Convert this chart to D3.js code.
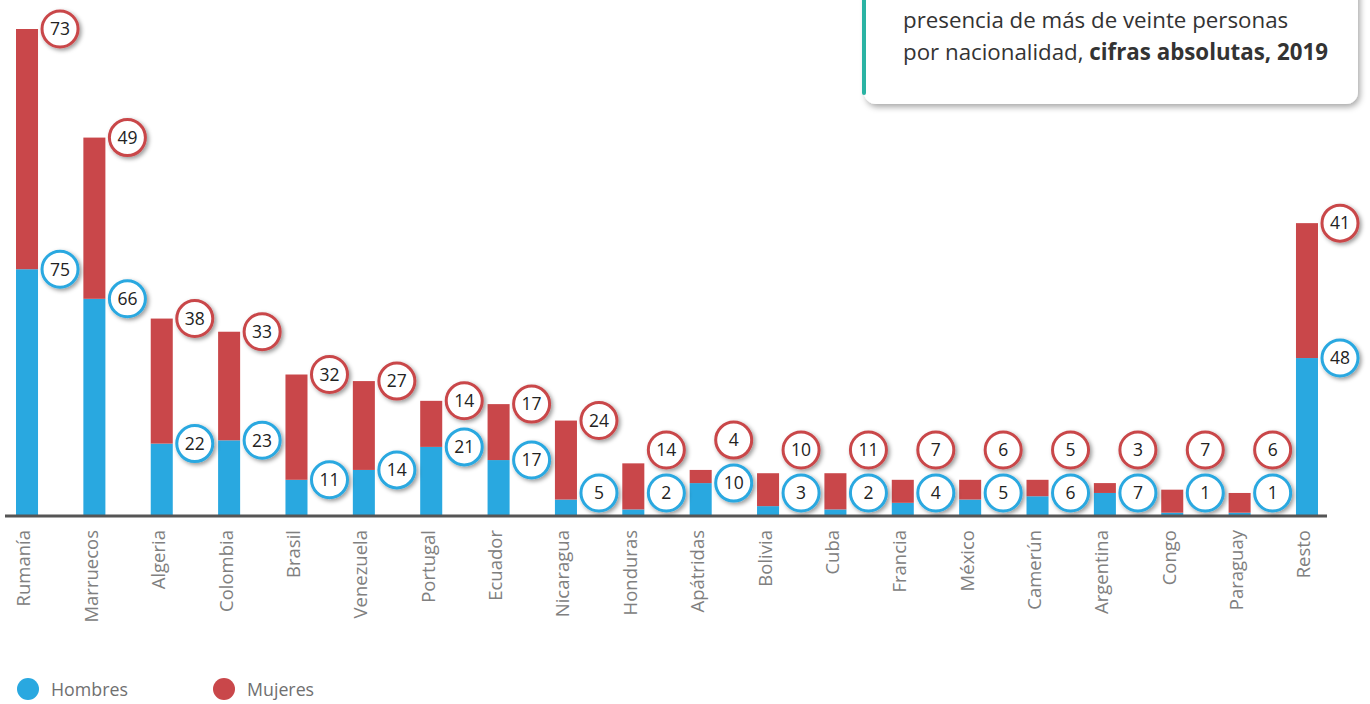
<!DOCTYPE html>
<html>
<head>
<meta charset="utf-8">
<script src="https://cdn.jsdelivr.net/npm/d3@7"></script>
<style>
  body { margin: 0; background: #fff; }
  svg { display: block; font-family: "Open Sans", sans-serif; }
</style>
</head>
<body>
<div id="chart"></div>
<script>
const countries = ["Rumanía", "Marruecos", "Algeria", "Colombia", "Brasil", "Venezuela", "Portugal", "Ecuador", "Nicaragua", "Honduras", "Apátridas", "Bolivia", "Cuba", "Francia", "México", "Camerún", "Argentina", "Congo", "Paraguay", "Resto"];
const hombres = [75, 66, 22, 23, 11, 14, 21, 17, 5, 2, 10, 3, 2, 4, 5, 6, 7, 1, 1, 48];
const mujeres = [73, 49, 38, 33, 32, 27, 14, 17, 24, 14, 4, 10, 11, 7, 6, 5, 3, 7, 6, 41];
const legendLabels = ["Hombres", "Mujeres"];

const width = 1370, height = 704;
const blue = "#29a8e0", red = "#c9474a";

const data = countries.map((c, i) => ({ c, h: hombres[i], m: mujeres[i] }));

const svg = d3.select("#chart").append("svg")
  .attr("width", width).attr("height", height);

const defs = svg.append("defs");
const sh = defs.append("filter").attr("id", "shadow")
  .attr("x", "-50%").attr("y", "-50%").attr("width", "200%").attr("height", "200%");
sh.append("feDropShadow").attr("dx", 2).attr("dy", 2).attr("stdDeviation", 2)
  .attr("flood-color", "#000").attr("flood-opacity", 0.4);
const sh2 = defs.append("filter").attr("id", "boxshadow")
  .attr("x", "-10%").attr("y", "-30%").attr("width", "120%").attr("height", "160%");
sh2.append("feDropShadow").attr("dx", 2).attr("dy", 3).attr("stdDeviation", 3)
  .attr("flood-color", "#000").attr("flood-opacity", 0.35);

const x = d3.scaleBand()
  .domain(countries)
  .range([16, 1318])
  .paddingInner(0.673)
  .paddingOuter(0)
  .align(0);

const y = d3.scaleLinear()
  .domain([0, d3.max(data, d => d.h + d.m)])
  .range([516, 29]);

// bars
const bars = svg.append("g");
bars.selectAll("rect.h").data(data).enter().append("rect")
  .attr("x", d => x(d.c)).attr("width", x.bandwidth())
  .attr("y", d => y(d.h)).attr("height", d => y(0) - y(d.h))
  .attr("fill", blue);
bars.selectAll("rect.m").data(data).enter().append("rect")
  .attr("x", d => x(d.c)).attr("width", x.bandwidth())
  .attr("y", d => y(d.h + d.m)).attr("height", d => y(d.h) - y(d.h + d.m))
  .attr("fill", red);

// axis
const xAxis = svg.append("g")
  .attr("transform", "translate(0,516)")
  .call(d3.axisBottom(x).tickSize(0));
xAxis.select(".domain").remove();
xAxis.selectAll("text")
  .attr("transform", "rotate(-90)")
  .attr("x", -14).attr("y", -3).attr("dy", "0.35em")
  .style("text-anchor", "end")
  .attr("fill", "#808080")
  .style("font-size", "18.5px")
  .style("font-family", "'Open Sans', sans-serif");

svg.append("line")
  .attr("x1", 5).attr("x2", 1327).attr("y1", 516).attr("y2", 516)
  .attr("stroke", "#555").attr("stroke-width", 3);

// value bubbles
const r = 18;
const lab = svg.append("g");
data.forEach(d => {
  const cx = x(d.c) + x.bandwidth() + 22;
  const by = Math.min(y(d.h), 493);
  const ry = Math.min(y(d.h + d.m), by - 43);
  [[ry, d.m, red], [by, d.h, blue]].forEach(([cy, v, col]) => {
    lab.append("circle").attr("cx", cx).attr("cy", cy).attr("r", r)
      .attr("fill", "#fff").attr("stroke", col).attr("stroke-width", 3)
      .attr("filter", "url(#shadow)");
    lab.append("text").attr("x", cx).attr("y", cy).attr("dy", "0.36em")
      .attr("text-anchor", "middle").attr("fill", "#222")
      .style("font-size", "17.5px").text(v);
  });
});

// legend
const lg = svg.append("g");
legendLabels.forEach((t, i) => {
  const lx = 28 + i * 196;
  lg.append("circle").attr("cx", lx).attr("cy", 689).attr("r", 11)
    .attr("fill", i === 0 ? blue : red);
  lg.append("text").attr("x", lx + 23).attr("y", 696)
    .attr("fill", "#707070").style("font-size", "17.8px").text(t);
});

// title box
const box = svg.append("g");
box.append("rect").attr("x", 864).attr("y", -20).attr("width", 494).attr("height", 124)
  .attr("rx", 12).attr("fill", "#fff").attr("filter", "url(#boxshadow)");
box.append("rect").attr("x", 862).attr("y", -20).attr("width", 4).attr("height", 115)
  .attr("rx", 2).attr("fill", "#2ab3a3");
box.append("text").attr("x", 903).attr("y", 28)
  .attr("fill", "#333").style("font-size", "22.3px")
  .text("presencia de más de veinte personas");
const t2 = box.append("text").attr("x", 903).attr("y", 60)
  .attr("fill", "#333").style("font-size", "22.3px");
t2.append("tspan").text("por nacionalidad, ");
t2.append("tspan").attr("font-weight", "bold").text("cifras absolutas, 2019");
</script>
</body>
</html>
